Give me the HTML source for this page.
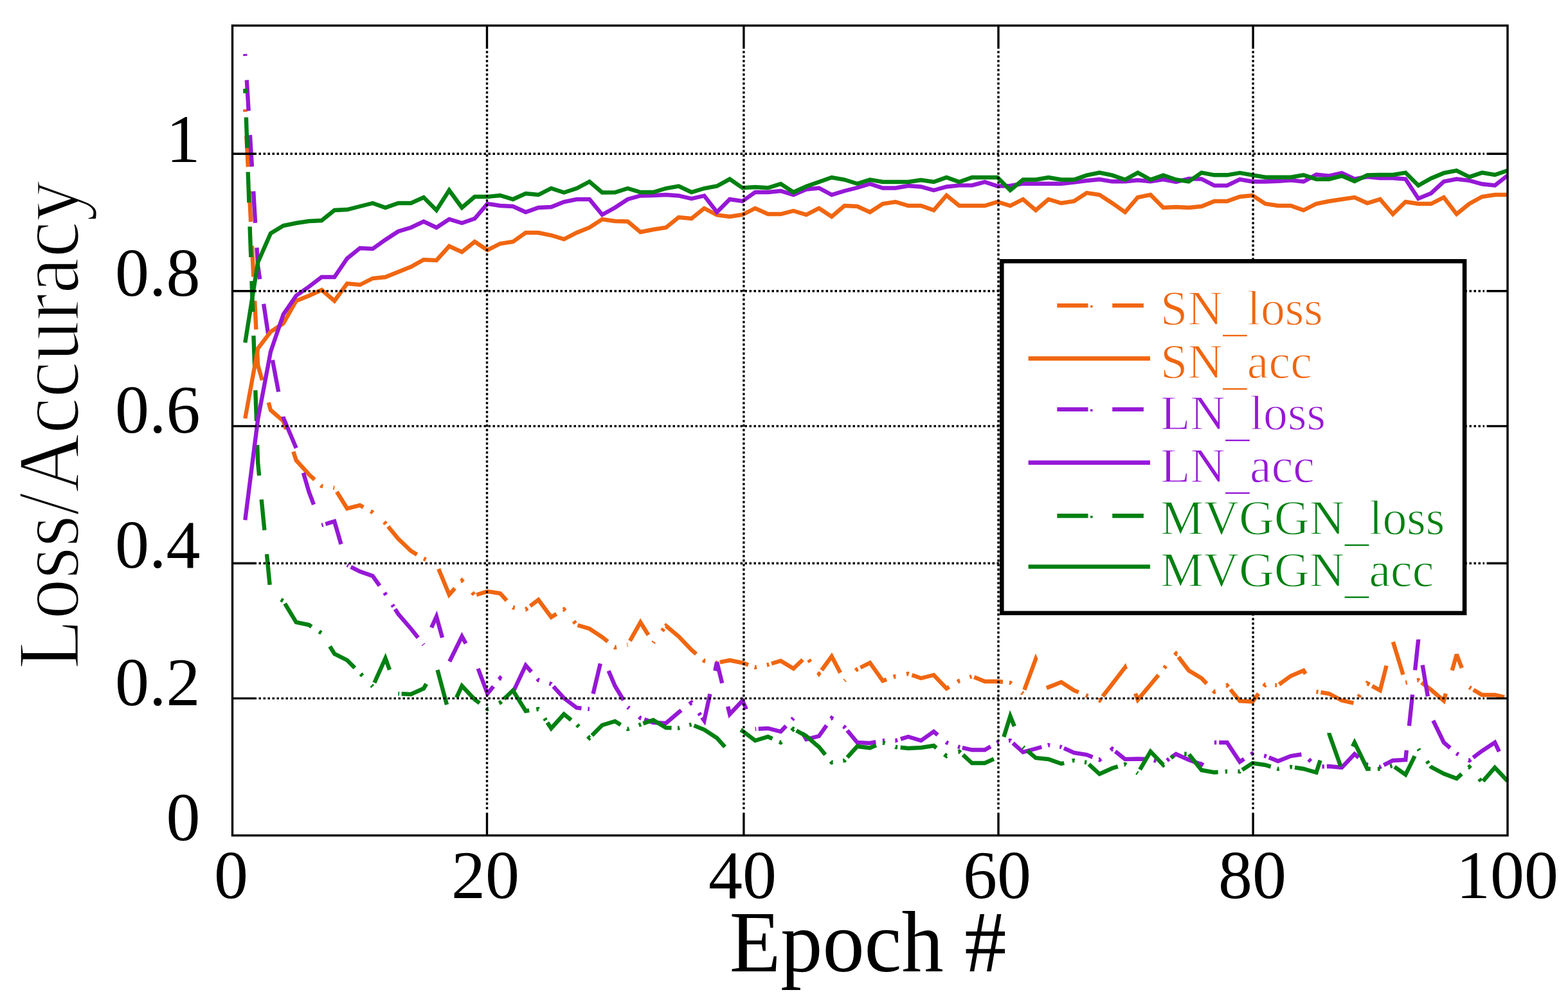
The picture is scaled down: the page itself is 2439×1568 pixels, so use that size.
<!DOCTYPE html>
<html><head><meta charset="utf-8"><title>Loss/Accuracy vs Epoch</title>
<style>
html,body{margin:0;padding:0;background:#fff;}
body{width:2439px;height:1568px;overflow:hidden;}
svg{display:block;}
text{font-family:"Liberation Serif","Times New Roman",serif;}
</style></head><body>
<svg xmlns="http://www.w3.org/2000/svg" width="2439" height="1568" viewBox="0 0 2439 1568">
<rect x="0" y="0" width="2439" height="1568" fill="#fff"/>

<g fill="none" stroke-width="6.4" stroke-linejoin="miter" stroke-miterlimit="3" stroke-linecap="butt">
<g stroke="#F06610"><polyline points="381.3,170.0 381.5,174.0"/><polyline points="383.4,211.5 385.8,259.5"/><polyline points="387.7,297.0 390.1,345.0"/><polyline points="391.9,382.5 394.3,430.5"/><polyline points="396.2,468.0 398.4,512.5"/><polyline points="400.1,547.0 401.2,568.0 407.8,591.5"/><polyline points="417.7,626.2 421.0,638.0 440.8,655.0 445.0,667.8"/><polyline points="456.3,702.5 460.7,716.0 480.5,738.0 489.4,746.1"/><polyline points="499.1,754.9 500.3,756.0 502.3,756.3"/><polyline points="518.4,758.7 520.2,759.0"/><polyline points="523.9,765.0 540.0,791.0 559.9,786.0 565.3,789.0"/><polyline points="576.5,795.2 579.7,797.0 580.2,797.4"/><polyline points="597.3,812.1 599.5,814.0 600.3,815.0"/><polyline points="603.7,819.0 619.4,838.0 639.2,857.0 648.6,862.7"/><polyline points="659.0,869.0 662.5,870.4"/><polyline points="682.2,885.0 698.7,925.0 707.5,915.2"/><polyline points="717.4,904.2 718.5,903.0 720.5,905.2"/><polyline points="734.5,921.5 737.5,925.0"/><polyline points="741.1,925.2 758.2,920.0 778.0,923.0 788.2,934.2"/><polyline points="797.6,944.8 797.9,945.0 800.8,945.5"/><polyline points="817.5,948.0 817.7,948.0 820.7,945.8"/><polyline points="824.6,942.8 837.5,933.0 857.4,960.0 865.6,955.0"/><polyline points="876.2,948.6 877.2,948.0 879.1,950.2"/><polyline points="892.3,966.2 895.2,969.8"/><polyline points="898.5,972.5 916.9,978.0 936.7,991.0 945.4,998.0"/><polyline points="955.8,1006.4 956.6,1007.0 959.0,1006.5"/><polyline points="975.4,1003.2 976.4,1003.0"/><polyline points="979.9,996.8 996.2,968.0 1008.5,987.8"/><polyline points="1016.1,1000.0 1017.4,998.2"/><polyline points="1029.9,981.5 1032.5,978.0"/><polyline points="1035.3,974.2 1035.9,973.5 1055.7,990.0 1075.6,1011.0 1083.0,1017.4"/><polyline points="1093.7,1026.5 1095.4,1028.0 1097.1,1028.3"/><polyline points="1113.0,1030.7 1115.2,1031.0 1116.2,1030.8"/><polyline points="1119.7,1030.1 1135.1,1027.0 1154.9,1031.0 1164.1,1034.2"/><polyline points="1173.7,1037.7 1174.7,1038.0 1177.0,1037.5"/><polyline points="1192.8,1034.3 1194.6,1034.0 1196.3,1033.5"/><polyline points="1200.0,1032.3 1214.4,1028.0 1234.2,1040.0 1248.6,1026.2"/><polyline points="1257.9,1026.2 1260.5,1029.8"/><polyline points="1272.6,1046.2 1273.9,1048.0 1275.2,1046.2"/><polyline points="1278.0,1042.5 1293.7,1021.0 1307.1,1046.5"/><polyline points="1313.6,1059.0 1314.8,1057.9"/><polyline points="1330.9,1043.2 1333.4,1041.0 1334.4,1040.5"/><polyline points="1338.4,1038.5 1353.2,1031.0 1373.1,1059.0 1379.0,1056.9"/><polyline points="1389.7,1053.1 1392.9,1052.0 1393.2,1052.0"/><polyline points="1410.0,1048.5 1412.8,1048.0 1413.7,1048.3"/><polyline points="1418.5,1050.0 1432.6,1055.0 1452.4,1050.0 1472.3,1071.0 1476.5,1068.5"/><polyline points="1489.4,1060.7 1492.1,1059.0 1493.1,1058.7"/><polyline points="1508.5,1053.2 1511.4,1052.2"/><polyline points="1515.2,1053.3 1531.8,1060.0 1551.6,1060.0 1560.0,1060.8"/><polyline points="1569.9,1061.8 1571.4,1062.0 1573.2,1063.5"/><polyline points="1589.3,1077.3 1591.3,1079.0"/><polyline points="1593.4,1073.2 1611.1,1025.0 1611.9,1026.8"/><polyline points="1629.6,1066.0 1630.9,1069.0 1650.8,1061.0 1670.6,1074.0 1677.8,1076.9"/><polyline points="1689.0,1081.4 1690.4,1082.0 1692.4,1082.8"/><polyline points="1709.3,1089.1 1710.3,1089.5 1712.2,1087.0"/><polyline points="1715.1,1083.2 1730.1,1064.0 1750.0,1038.0 1751.1,1041.0"/><polyline points="1766.0,1078.9 1769.8,1088.6 1789.6,1065.0 1802.0,1050.0"/><polyline points="1810.9,1039.2 1813.6,1036.0"/><polyline points="1827.4,1019.2 1829.3,1017.0 1830.1,1018.0"/><polyline points="1833.1,1022.0 1849.1,1043.0 1869.0,1055.0 1877.0,1063.5"/><polyline points="1887.1,1074.2 1888.8,1076.0 1890.5,1075.1"/><polyline points="1907.6,1066.5 1908.6,1066.0 1910.7,1068.5"/><polyline points="1913.9,1072.5 1928.5,1090.5 1948.3,1091.5 1957.7,1079.0"/><polyline points="1965.9,1068.0 1968.1,1065.0 1968.4,1065.0"/><polyline points="1983.3,1065.8 1986.2,1065.9"/><polyline points="1989.7,1064.7 2007.8,1051.5 2027.6,1043.0 2030.8,1048.2"/><polyline points="2047.5,1076.0 2050.5,1076.5"/><polyline points="2054.4,1077.0 2067.3,1079.0 2087.1,1089.5 2105.5,1093.7"/><polyline points="2113.2,1084.2 2115.5,1080.8"/><polyline points="2126.7,1063.2 2126.8,1063.0 2130.3,1064.9"/><polyline points="2134.3,1067.1 2146.7,1074.0 2156.6,1035.5"/><polyline points="2166.9,998.5 2182.5,1049.5"/><polyline points="2186.3,1062.0 2188.6,1061.5"/><polyline points="2204.2,1058.4 2206.2,1058.0 2207.4,1058.9"/><polyline points="2211.1,1061.8 2226.0,1073.0 2245.8,1090.0 2248.9,1078.8"/><polyline points="2258.8,1042.8 2265.7,1018.0 2273.9,1039.2"/><polyline points="2285.5,1069.0 2288.2,1070.7"/><polyline points="2291.9,1072.9 2305.3,1081.0 2325.2,1081.0 2340.0,1084.4"/></g>
<g stroke="#9618D6"><polyline points="381.3,84.0 381.5,87.0"/><polyline points="383.8,124.5 386.7,172.5"/><polyline points="388.9,210.0 391.9,259.2"/><polyline points="394.2,297.5 397.1,346.8"/><polyline points="399.4,385.2 401.2,414.0 404.2,434.2"/><polyline points="410.1,472.8 417.5,522.0"/><polyline points="423.9,560.2 433.2,609.5"/><polyline points="440.5,648.0 440.8,650.0 460.7,697.0"/><polyline points="471.9,735.5 480.5,765.0 488.0,784.8"/><polyline points="500.3,817.0 502.6,816.3"/><polyline points="506.3,815.2 520.2,811.0 530.5,846.5"/><polyline points="540.0,879.0 542.0,880.0"/><polyline points="545.7,881.9 559.9,889.0 579.7,896.0 590.5,911.2"/><polyline points="598.1,922.0 599.5,924.0 600.5,925.5"/><polyline points="610.2,940.8 612.2,943.8"/><polyline points="614.6,947.5 619.4,955.0 639.2,978.0 650.3,992.0"/><polyline points="658.2,1002.0 659.0,1003.0"/><polyline points="671.1,976.2 678.9,959.0 688.0,991.9"/><polyline points="699.2,1029.0 718.5,990.0 724.6,1001.0"/><polyline points="743.6,1040.0 758.2,1079.0 767.5,1067.8"/><polyline points="776.4,1057.0 778.0,1055.0 779.4,1056.5"/><polyline points="794.5,1073.2 797.6,1076.8"/><polyline points="799.5,1073.5 817.7,1035.0 826.5,1045.2"/><polyline points="835.8,1056.0 837.5,1058.0 838.8,1058.4"/><polyline points="854.4,1063.1 857.4,1064.0 857.6,1064.2"/><polyline points="860.8,1067.8 877.2,1086.0 897.0,1101.0 904.5,1101.8"/><polyline points="914.4,1102.8 916.9,1103.0"/><polyline points="922.6,1079.2 933.8,1032.2"/><polyline points="946.6,1043.5 956.6,1067.0 969.9,1089.2"/><polyline points="976.4,1100.0 978.6,1101.9"/><polyline points="994.0,1115.1 996.2,1117.0 997.5,1117.4"/><polyline points="1002.2,1119.1 1016.1,1124.0 1035.9,1125.0 1055.7,1108.0 1059.7,1105.0"/><polyline points="1072.3,1095.4 1075.6,1093.0 1075.9,1093.5"/><polyline points="1087.1,1109.2 1089.4,1112.5"/><polyline points="1092.0,1116.2 1095.4,1121.0 1104.4,1079.5"/><polyline points="1112.3,1043.5 1115.2,1030.0 1123.2,1062.8"/><polyline points="1132.1,1099.0 1135.1,1111.0 1154.9,1090.0 1160.9,1103.2"/><polyline points="1174.7,1134.0 1176.2,1133.9"/><polyline points="1179.7,1133.8 1194.6,1133.0 1214.4,1138.0 1222.7,1129.2"/><polyline points="1231.9,1119.5 1234.2,1117.0"/><polyline points="1248.2,1140.2 1254.1,1150.0 1273.9,1145.0 1285.7,1128.4"/><polyline points="1292.9,1118.2 1293.7,1117.0 1295.7,1118.4"/><polyline points="1311.8,1129.8 1313.6,1131.0 1314.8,1132.5"/><polyline points="1317.9,1136.2 1333.4,1155.0 1353.2,1156.0 1362.4,1154.2"/><polyline points="1372.8,1152.0 1373.1,1152.0 1376.1,1152.0"/><polyline points="1392.4,1152.0 1392.9,1152.0 1396.1,1151.0"/><polyline points="1400.9,1149.6 1412.8,1146.0 1432.6,1152.0 1452.4,1138.0 1458.6,1143.3"/><polyline points="1471.5,1154.4 1472.3,1155.0 1475.0,1156.0"/><polyline points="1490.1,1161.3 1492.1,1162.0 1493.3,1162.3"/><polyline points="1496.8,1163.1 1511.9,1166.5 1531.8,1166.5 1540.9,1161.2"/><polyline points="1550.6,1155.6 1551.6,1155.0 1553.8,1154.7"/><polyline points="1569.0,1152.4 1571.4,1152.0 1572.2,1152.7"/><polyline points="1575.6,1155.8 1591.3,1170.0 1620.3,1162.0"/><polyline points="1629.9,1159.3 1630.9,1159.0 1633.2,1159.3"/><polyline points="1648.3,1161.6 1650.8,1162.0 1651.5,1162.3"/><polyline points="1655.0,1163.9 1670.6,1171.0 1690.4,1174.0 1699.6,1177.7"/><polyline points="1709.3,1181.6 1710.3,1182.0 1712.5,1180.1"/><polyline points="1727.6,1167.1 1730.1,1165.0 1731.1,1165.8"/><polyline points="1734.8,1168.8 1750.0,1181.0 1769.8,1180.5 1784.2,1180.9"/><polyline points="1794.8,1182.6 1798.5,1183.7"/><polyline points="1815.2,1183.0 1818.6,1180.5"/><polyline points="1822.6,1177.7 1829.3,1173.0 1849.1,1182.0 1869.0,1189.0 1870.7,1186.0"/><polyline points="1888.8,1155.0 1892.3,1155.0"/><polyline points="1896.2,1155.0 1908.6,1155.0 1928.5,1185.0 1935.2,1180.6"/><polyline points="1945.8,1173.6 1948.3,1172.0 1949.3,1172.2"/><polyline points="1966.2,1175.6 1968.1,1176.0 1969.9,1176.7"/><polyline points="1973.8,1178.3 1988.0,1184.0 2007.8,1176.0 2024.4,1173.5"/><polyline points="2035.6,1181.0 2039.0,1184.5"/><polyline points="2056.4,1192.5 2059.9,1192.4"/><polyline points="2063.8,1192.2 2067.3,1192.0 2087.1,1194.0 2107.0,1173.0 2113.4,1178.5"/><polyline points="2124.3,1187.9 2126.8,1190.0 2128.1,1190.2"/><polyline points="2144.9,1192.7 2146.7,1193.0 2148.4,1192.1"/><polyline points="2152.4,1190.1 2166.5,1183.0 2186.3,1182.0 2187.9,1167.2"/><polyline points="2191.9,1129.2 2197.1,1080.5"/><polyline points="2201.1,1042.5 2206.2,995.0 2206.4,996.2"/><polyline points="2212.7,1034.5 2220.9,1083.2"/><polyline points="2229.3,1120.8 2245.8,1155.0 2255.7,1163.5"/><polyline points="2265.4,1171.8 2265.7,1172.0 2268.6,1173.7"/><polyline points="2284.3,1182.3 2285.5,1183.0 2287.7,1181.3"/><polyline points="2291.4,1178.5 2305.3,1168.0 2325.2,1155.0 2331.9,1169.2"/></g>
<g stroke="#008012"><polyline points="381.3,138.0 381.6,145.0"/><polyline points="382.9,182.5 384.5,230.2"/><polyline points="385.7,267.5 387.4,315.2"/><polyline points="388.6,352.5 390.3,400.0"/><polyline points="391.5,437.2 393.2,485.0"/><polyline points="394.4,522.2 396.1,570.0"/><polyline points="397.3,607.2 399.0,655.0"/><polyline points="400.2,692.2 401.2,720.0 403.1,739.8"/><polyline points="406.7,777.0 411.4,824.8"/><polyline points="415.0,862.0 419.6,909.8"/><polyline points="436.9,932.8 440.3,934.7"/><polyline points="443.1,938.8 460.7,968.0 480.5,972.0 484.7,974.8"/><polyline points="496.4,982.4 499.8,984.7"/><polyline points="513.1,1005.5 520.2,1017.0 540.0,1027.0 551.9,1039.0"/><polyline points="561.0,1048.2 563.9,1051.2"/><polyline points="577.8,1066.0 579.7,1068.0"/><polyline points="582.4,1062.0 599.5,1024.0 606.0,1041.9"/><polyline points="619.4,1079.0 621.1,1079.1"/><polyline points="624.6,1079.3 639.2,1080.0 659.0,1071.0 663.1,1063.8"/><polyline points="680.5,1042.2 695.0,1096.2"/><polyline points="710.1,1085.2 718.5,1067.0 738.4,1088.0 746.1,1093.8"/><polyline points="756.2,1101.5 758.2,1103.0 759.4,1102.4"/><polyline points="776.3,1093.9 778.0,1093.0 780.0,1091.1"/><polyline points="784.0,1087.3 797.9,1074.0 817.7,1106.0 823.2,1105.2"/><polyline points="834.3,1103.5 837.5,1103.0 837.7,1103.2"/><polyline points="847.1,1117.5 849.1,1120.5"/><polyline points="851.4,1124.0 857.4,1133.0 877.2,1111.0 888.4,1120.0"/><polyline points="897.5,1127.5 900.4,1130.5"/><polyline points="914.3,1145.2 916.9,1148.0 917.4,1147.5"/><polyline points="920.8,1144.0 936.7,1128.0 956.6,1122.0 965.5,1127.4"/><polyline points="975.4,1133.4 976.4,1134.0 978.6,1133.2"/><polyline points="993.7,1127.9 997.0,1126.7"/><polyline points="1000.4,1125.5 1016.1,1120.0 1035.9,1132.0 1044.6,1132.2"/><polyline points="1054.0,1132.5 1055.7,1132.5 1057.2,1132.1"/><polyline points="1072.3,1127.9 1075.6,1127.0"/><polyline points="1079.5,1128.6 1095.4,1135.0 1115.2,1148.0 1127.6,1161.8"/><polyline points="1153.2,1139.8 1154.9,1137.0 1174.7,1152.0 1194.6,1146.0 1201.5,1149.2"/><polyline points="1212.2,1154.0 1214.4,1155.0 1215.6,1153.8"/><polyline points="1231.6,1136.8 1234.2,1134.0 1235.0,1134.4"/><polyline points="1238.7,1136.5 1254.1,1145.0 1273.9,1162.0 1283.8,1174.0"/><polyline points="1292.3,1184.2 1293.7,1186.0 1295.5,1185.7"/><polyline points="1311.3,1183.3 1313.6,1183.0 1314.7,1181.8"/><polyline points="1317.9,1178.2 1333.4,1161.0 1353.2,1163.5 1362.9,1159.4"/><polyline points="1373.3,1155.1 1376.6,1156.2"/><polyline points="1392.7,1161.9 1392.9,1162.0 1396.1,1162.3"/><polyline points="1400.6,1162.8 1412.8,1164.0 1432.6,1163.0 1452.4,1160.0 1456.6,1163.4"/><polyline points="1469.0,1173.4 1472.3,1176.0 1473.0,1175.7"/><polyline points="1490.6,1169.5 1492.1,1169.0 1494.1,1170.8"/><polyline points="1497.8,1174.2 1511.9,1187.0 1531.8,1187.0 1545.9,1180.6"/><polyline points="1561.4,1146.2 1571.4,1114.0 1577.9,1129.8"/><polyline points="1591.3,1162.0 1593.0,1163.5"/><polyline points="1597.7,1167.5 1611.1,1179.0 1630.9,1181.0 1650.8,1188.0 1655.2,1186.9"/><polyline points="1667.9,1183.7 1670.6,1183.0 1671.6,1183.2"/><polyline points="1687.0,1185.5 1690.2,1186.0"/><polyline points="1693.7,1188.9 1710.3,1204.0 1730.1,1195.0 1738.8,1192.4"/><polyline points="1748.5,1189.5 1750.0,1189.0 1751.7,1190.2"/><polyline points="1768.0,1201.8 1769.8,1203.0"/><polyline points="1773.1,1197.2 1789.6,1169.0 1809.5,1190.0 1810.4,1189.1"/><polyline points="1821.4,1179.2 1825.1,1175.8"/><polyline points="1842.2,1172.7 1845.7,1172.8"/><polyline points="1849.5,1173.5 1869.0,1198.0 1888.8,1201.5 1894.7,1201.0"/><polyline points="1905.7,1200.2 1908.6,1200.0 1909.1,1200.0"/><polyline points="1925.5,1200.0 1928.5,1200.0 1928.7,1199.8"/><polyline points="1932.2,1197.6 1948.3,1187.0 1968.1,1190.0 1976.8,1192.6"/><polyline points="1986.5,1195.5 1988.0,1196.0 1989.7,1195.7"/><polyline points="2006.3,1193.2 2007.8,1193.0 2010.0,1193.3"/><polyline points="2014.0,1193.9 2027.6,1196.0 2047.5,1201.5 2053.6,1182.8"/><polyline points="2067.0,1142.0 2067.3,1141.0 2085.4,1192.0"/><polyline points="2104.0,1161.2 2107.0,1155.0 2126.8,1196.0 2131.8,1196.0"/><polyline points="2142.9,1196.0 2146.7,1196.0"/><polyline points="2162.3,1192.1 2165.5,1191.2"/><polyline points="2169.2,1192.9 2186.3,1205.0 2200.6,1176.2"/><polyline points="2206.2,1165.0 2207.7,1167.2"/><polyline points="2219.6,1184.0 2222.1,1187.5"/><polyline points="2224.9,1191.5 2226.0,1193.0 2245.8,1203.5 2265.7,1211.0 2273.6,1203.8"/><polyline points="2284.3,1194.1 2285.5,1193.0 2287.4,1195.2"/><polyline points="2300.8,1211.5 2303.7,1215.0"/><polyline points="2306.8,1215.2 2325.2,1194.0 2345.0,1215.0"/></g>
<polyline stroke="#F06610" points="381.3,651.0 401.2,542.0 421.0,516.0 440.8,503.0 460.7,468.0 480.5,460.0 500.3,451.0 520.2,468.0 540.0,441.0 559.9,443.0 579.7,433.0 599.5,431.0 619.4,423.0 639.2,415.0 659.0,404.0 678.9,405.0 698.7,383.0 718.5,392.0 738.4,376.0 758.2,389.0 778.0,379.0 797.9,376.0 817.7,362.0 837.5,362.0 857.4,366.0 877.2,372.0 897.0,362.0 916.9,354.0 936.7,341.0 956.6,344.0 976.4,344.5 996.2,361.0 1016.1,357.0 1035.9,354.0 1055.7,338.0 1075.6,340.0 1095.4,324.0 1115.2,334.5 1135.1,337.0 1154.9,334.0 1174.7,324.0 1194.6,333.0 1214.4,333.0 1234.2,328.0 1254.1,334.0 1273.9,324.0 1293.7,337.0 1313.6,320.0 1333.4,321.0 1353.2,330.0 1373.1,317.0 1392.9,314.0 1412.8,320.0 1432.6,320.0 1452.4,327.0 1472.3,304.0 1492.1,320.0 1511.9,320.0 1531.8,320.0 1551.6,314.0 1571.4,320.0 1591.3,310.0 1611.1,327.0 1630.9,310.0 1650.8,316.0 1670.6,313.0 1690.4,300.0 1710.3,303.0 1730.1,316.0 1750.0,330.0 1769.8,307.0 1789.6,303.0 1809.5,323.0 1829.3,322.0 1849.1,323.0 1869.0,321.0 1888.8,313.0 1908.6,313.0 1928.5,306.0 1948.3,304.0 1968.1,317.0 1988.0,320.0 2007.8,320.0 2027.6,327.0 2047.5,317.0 2067.3,313.0 2087.1,310.0 2107.0,307.0 2126.8,316.0 2146.7,310.0 2166.5,333.0 2186.3,314.0 2206.2,317.0 2226.0,317.0 2245.8,307.0 2265.7,333.0 2285.5,317.0 2305.3,306.0 2325.2,303.0 2345.0,303.0"/>
<polyline stroke="#9618D6" points="381.3,809.0 401.2,652.0 421.0,547.0 440.8,489.0 460.7,460.0 480.5,446.0 500.3,431.0 520.2,431.0 540.0,402.0 559.9,386.0 579.7,387.0 599.5,373.0 619.4,360.0 639.2,354.0 659.0,344.5 678.9,354.0 698.7,341.0 718.5,347.0 738.4,340.0 758.2,317.0 778.0,320.0 797.9,321.0 817.7,330.0 837.5,323.0 857.4,322.0 877.2,314.0 897.0,310.0 916.9,310.0 936.7,334.0 956.6,323.0 976.4,310.0 996.2,304.5 1016.1,304.0 1035.9,303.0 1055.7,304.5 1075.6,309.0 1095.4,304.5 1115.2,330.0 1135.1,310.0 1154.9,313.0 1174.7,299.0 1194.6,299.0 1214.4,297.0 1234.2,303.0 1254.1,294.5 1273.9,292.5 1293.7,303.0 1313.6,297.0 1333.4,292.0 1353.2,286.0 1373.1,292.5 1392.9,292.5 1412.8,289.0 1432.6,290.5 1452.4,296.0 1472.3,290.5 1492.1,288.4 1511.9,288.4 1531.8,283.0 1551.6,289.5 1571.4,289.0 1591.3,285.7 1611.1,285.7 1630.9,285.7 1650.8,285.7 1670.6,283.6 1690.4,281.0 1710.3,279.0 1730.1,282.3 1750.0,282.3 1769.8,280.2 1789.6,282.3 1809.5,279.0 1829.3,283.0 1849.1,278.0 1869.0,278.5 1888.8,288.6 1908.6,288.6 1928.5,279.0 1948.3,282.5 1968.1,282.5 1988.0,281.8 2007.8,280.4 2027.6,282.5 2047.5,271.6 2067.3,273.6 2087.1,269.0 2107.0,278.5 2126.8,275.0 2146.7,277.0 2166.5,277.0 2186.3,278.6 2206.2,308.9 2226.0,300.7 2245.8,282.4 2265.7,278.6 2285.5,280.8 2305.3,286.3 2325.2,288.5 2345.0,273.0"/>
<polyline stroke="#008012" points="381.3,533.0 401.2,408.0 421.0,363.0 440.8,351.0 460.7,347.0 480.5,344.0 500.3,343.0 520.2,327.0 540.0,326.0 559.9,321.0 579.7,316.0 599.5,323.0 619.4,316.0 639.2,316.0 659.0,307.0 678.9,327.0 698.7,296.0 718.5,323.0 738.4,306.0 758.2,306.0 778.0,304.0 797.9,310.0 817.7,301.0 837.5,303.0 857.4,293.0 877.2,299.5 897.0,293.0 916.9,282.5 936.7,299.5 956.6,299.3 976.4,293.0 996.2,299.0 1016.1,299.0 1035.9,293.0 1055.7,289.5 1075.6,299.0 1095.4,293.0 1115.2,289.5 1135.1,278.6 1154.9,292.3 1174.7,291.0 1194.6,292.3 1214.4,286.0 1234.2,299.0 1254.1,290.0 1273.9,283.0 1293.7,276.0 1313.6,279.5 1333.4,285.7 1353.2,279.5 1373.1,283.0 1392.9,283.0 1412.8,283.0 1432.6,280.0 1452.4,283.0 1472.3,276.0 1492.1,283.0 1511.9,276.0 1531.8,276.0 1551.6,276.0 1571.4,296.0 1591.3,279.5 1611.1,279.5 1630.9,276.0 1650.8,279.5 1670.6,279.5 1690.4,272.7 1710.3,268.6 1730.1,272.7 1750.0,279.5 1769.8,268.6 1789.6,279.5 1809.5,272.7 1829.3,279.5 1849.1,282.5 1869.0,268.7 1888.8,272.3 1908.6,272.3 1928.5,268.9 1948.3,272.3 1968.1,275.7 1988.0,275.7 2007.8,275.7 2027.6,272.3 2047.5,278.7 2067.3,278.7 2087.1,273.6 2107.0,281.9 2126.8,272.5 2146.7,272.0 2166.5,272.0 2186.3,268.6 2206.2,288.5 2226.0,277.5 2245.8,269.2 2265.7,265.3 2285.5,275.3 2305.3,268.6 2325.2,272.0 2345.0,265.3"/>
</g>
<g stroke="#000" stroke-width="3.4" stroke-dasharray="3.5 3.5" fill="none"><line x1="757.5" y1="79.3" x2="757.5" y2="1260.6999999999998"/><line x1="1156.9" y1="79.3" x2="1156.9" y2="1260.6999999999998"/><line x1="1553.0" y1="79.3" x2="1553.0" y2="1260.6999999999998"/><line x1="1949.1" y1="79.3" x2="1949.1" y2="1260.6999999999998"/><line x1="402.5" y1="239.3" x2="2309.0" y2="239.3"/><line x1="402.5" y1="452.7" x2="2309.0" y2="452.7"/><line x1="402.5" y1="662.9" x2="2309.0" y2="662.9"/><line x1="402.5" y1="876.3" x2="2309.0" y2="876.3"/><line x1="402.5" y1="1086.4" x2="2309.0" y2="1086.4"/></g>
<g stroke="#000" stroke-width="3.4" fill="none"><line x1="757.5" y1="39.8" x2="757.5" y2="75.8"/><line x1="757.5" y1="1299.6" x2="757.5" y2="1264.1999999999998"/><line x1="1156.9" y1="39.8" x2="1156.9" y2="75.8"/><line x1="1156.9" y1="1299.6" x2="1156.9" y2="1264.1999999999998"/><line x1="1553.0" y1="39.8" x2="1553.0" y2="75.8"/><line x1="1553.0" y1="1299.6" x2="1553.0" y2="1264.1999999999998"/><line x1="1949.1" y1="39.8" x2="1949.1" y2="75.8"/><line x1="1949.1" y1="1299.6" x2="1949.1" y2="1264.1999999999998"/><line x1="361.5" y1="239.3" x2="399.0" y2="239.3"/><line x1="2345.0" y1="239.3" x2="2312.5" y2="239.3"/><line x1="361.5" y1="452.7" x2="399.0" y2="452.7"/><line x1="2345.0" y1="452.7" x2="2312.5" y2="452.7"/><line x1="361.5" y1="662.9" x2="399.0" y2="662.9"/><line x1="2345.0" y1="662.9" x2="2312.5" y2="662.9"/><line x1="361.5" y1="876.3" x2="399.0" y2="876.3"/><line x1="2345.0" y1="876.3" x2="2312.5" y2="876.3"/><line x1="361.5" y1="1086.4" x2="399.0" y2="1086.4"/><line x1="2345.0" y1="1086.4" x2="2312.5" y2="1086.4"/></g>
<rect x="361.5" y="39.8" width="1983.5" height="1259.8" fill="none" stroke="#000" stroke-width="3.4"/>
<rect x="1558.3" y="406.3" width="719.8000000000001" height="547.4" fill="#fff" stroke="#000" stroke-width="6.6"/>
<g stroke="#F06610" stroke-width="6.6"><line x1="1644.3" y1="475.2" x2="1692.5" y2="475.2"/><line x1="1696" y1="476.8" x2="1699.6" y2="476.8" stroke-width="3.4"/><line x1="1730.2" y1="475.2" x2="1778.9" y2="475.2"/></g>
<text transform="translate(1805,504.9) scale(0.985,1)" x="0" y="0" font-size="77" fill="#F06610" stroke="#fff" stroke-width="1.3">SN<tspan dy="9">_</tspan><tspan dy="-9">loss</tspan></text>
<line x1="1599.6" y1="557.6" x2="1789" y2="557.6" stroke="#F06610" stroke-width="6.6"/>
<text transform="translate(1805,587.7) scale(0.985,1)" x="0" y="0" font-size="77" fill="#F06610" stroke="#fff" stroke-width="1.3">SN<tspan dy="9">_</tspan><tspan dy="-9">acc</tspan></text>
<g stroke="#9618D6" stroke-width="6.6"><line x1="1644.3" y1="636.7" x2="1692.5" y2="636.7"/><line x1="1696" y1="638.3000000000001" x2="1699.6" y2="638.3000000000001" stroke-width="3.4"/><line x1="1730.2" y1="636.7" x2="1778.9" y2="636.7"/></g>
<text transform="translate(1805,667.6) scale(0.985,1)" x="0" y="0" font-size="77" fill="#9618D6" stroke="#fff" stroke-width="1.3">LN<tspan dy="9">_</tspan><tspan dy="-9">loss</tspan></text>
<line x1="1599.6" y1="719.6" x2="1789" y2="719.6" stroke="#9618D6" stroke-width="6.6"/>
<text transform="translate(1805,749.7) scale(0.985,1)" x="0" y="0" font-size="77" fill="#9618D6" stroke="#fff" stroke-width="1.3">LN<tspan dy="9">_</tspan><tspan dy="-9">acc</tspan></text>
<g stroke="#008012" stroke-width="6.6"><line x1="1644.3" y1="802.4" x2="1692.5" y2="802.4"/><line x1="1696" y1="804.0" x2="1699.6" y2="804.0" stroke-width="3.4"/><line x1="1730.2" y1="802.4" x2="1778.9" y2="802.4"/></g>
<text transform="translate(1805,831.4) scale(0.985,1)" x="0" y="0" font-size="77" fill="#008012" stroke="#fff" stroke-width="1.3">MVGGN<tspan dy="9">_</tspan><tspan dy="-9">loss</tspan></text>
<line x1="1599.6" y1="881.5" x2="1789" y2="881.5" stroke="#008012" stroke-width="6.6"/>
<text transform="translate(1805,911.6) scale(0.985,1)" x="0" y="0" font-size="77" fill="#008012" stroke="#fff" stroke-width="1.3">MVGGN<tspan dy="9">_</tspan><tspan dy="-9">acc</tspan></text>
<text x="311.5" y="251.7" font-size="106" text-anchor="end">1</text>
<text x="311.5" y="459.7" font-size="106" text-anchor="end">0.8</text>
<text x="311.5" y="673.3" font-size="106" text-anchor="end">0.6</text>
<text x="311.5" y="883.3" font-size="106" text-anchor="end">0.4</text>
<text x="311.5" y="1096.9" font-size="106" text-anchor="end">0.2</text>
<text x="311.5" y="1306.9" font-size="106" text-anchor="end">0</text>
<text x="359.5" y="1396.7" font-size="106" text-anchor="middle">0</text>
<text x="755.0" y="1396.7" font-size="106" text-anchor="middle">20</text>
<text x="1154.9" y="1396.7" font-size="106" text-anchor="middle">40</text>
<text x="1551.0" y="1396.7" font-size="106" text-anchor="middle">60</text>
<text x="1948.1" y="1396.7" font-size="106" text-anchor="middle">80</text>
<text x="2344.5" y="1396.7" font-size="106" text-anchor="middle">100</text>
<text transform="translate(1350,1511.3) scale(0.969,1)" x="0" y="0" font-size="134.5" text-anchor="middle">Epoch #</text>
<text transform="translate(121.8,660.9) rotate(-90) scale(0.925,1)" x="0" y="0" font-size="137" text-anchor="middle" stroke="#fff" stroke-width="2.6">Loss/Accuracy</text>
</svg></body></html>
